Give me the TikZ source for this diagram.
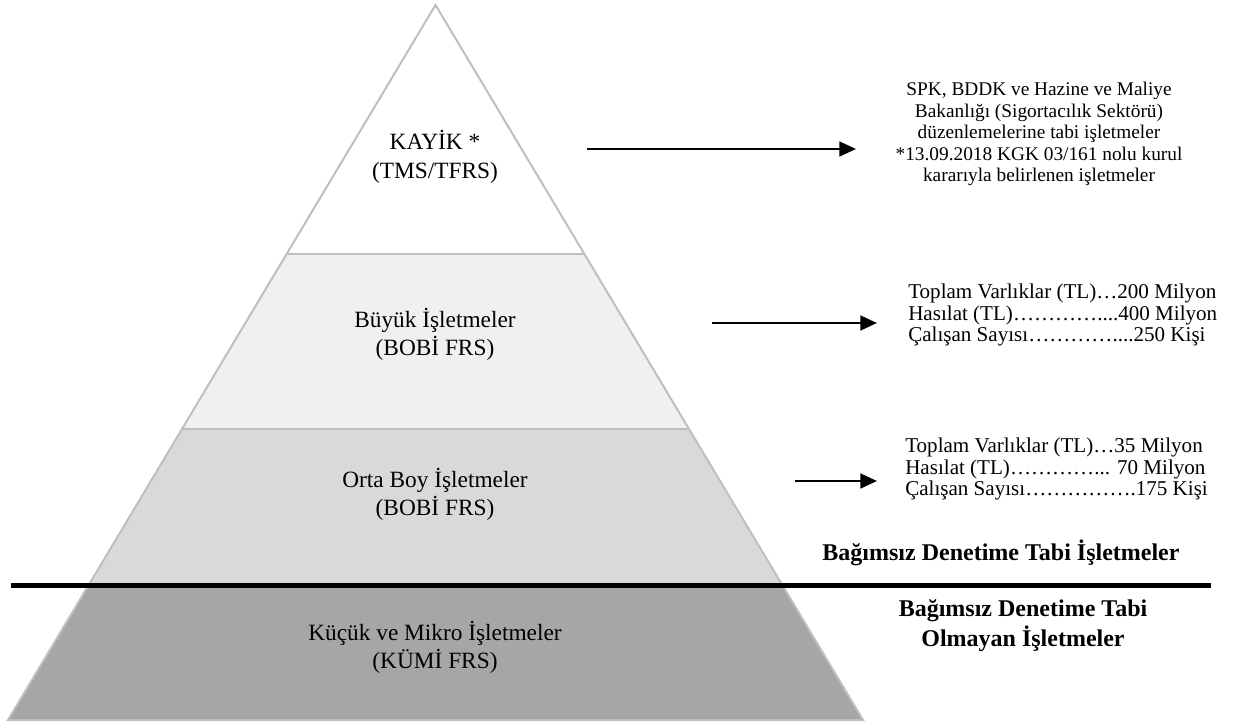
\documentclass[tikz,border=0pt]{standalone}
\usepackage{fontspec}
\setmainfont{Liberation Serif}
\usetikzlibrary{arrows.meta}
\usetikzlibrary{positioning}
\tikzset{arr/.style = {line width=2pt, -{Triangle[length=12.5pt, width=11pt]}}}
\tikzset{lbl/.style = {align=center, inner sep=0, font=\fontsize{17.5}{21.4}\selectfont}}
\tikzset{bold/.style = {align=center, inner sep=0, font=\fontsize{18}{22.5}\selectfont\bfseries}}
\tikzset{info/.style = {inner sep=0, font=\fontsize{14.5}{16.2}\selectfont}}
\tikzset{crit/.style = {inner sep=0, align=left, anchor=west, font=\fontsize{15.8}{16.3}\selectfont}}
\tikzset{edge/.style = {egray, line width=1.5pt}}
\definecolor{lgray}{HTML}{F0F0F0}
\definecolor{mgray}{HTML}{D9D9D9}
\definecolor{dgray}{HTML}{A6A6A6}
\definecolor{egray}{HTML}{BFBFBF}

\begin{document}
\begin{tikzpicture}[x=0.75pt, y=-0.75pt]
  \useasboundingbox (0,0) rectangle (1238,725);
  \coordinate (top) at (435.5,5);
  \coordinate (bl) at (8,720);
  \coordinate (br) at (863,720);
  \begin{scope}
    \clip (top) -- (bl) -- (br) -- cycle;
    \fill [lgray] (0,254) rectangle (1238,429);
    \fill [mgray] (0,429) rectangle (1238,585);
    \fill [dgray] (0,585) rectangle (1238,725);
    \foreach \y in {254, 429} {
      \draw [edge] (0,\y) -- (1238,\y);
    }
  \end{scope}
  \draw [edge] (top) -- (bl) -- (br) -- cycle;

  \coordinate (sl) at (11,585);
  \coordinate (sr) at (1211,585);
  \draw [line width=3.75pt] (sl) -- (sr);

  \node [lbl] (kayik) at (435,157) {KAYİK *\\(TMS/TFRS)};
  \node [lbl] (buyuk) at (435,334.5) {Büyük İşletmeler\\(BOBİ FRS)};
  \node [lbl] (orta) at (435,494.5) {Orta Boy İşletmeler\\(BOBİ FRS)};
  \node [lbl] (kucuk) at (435,647.5) {Küçük ve Mikro İşletmeler\\(KÜMİ FRS)};

  \node [info, align=center] (kayikinfo) at (1039,134)
    {SPK, BDDK ve Hazine ve Maliye\\Bakanlığı (Sigortacılık Sektörü)\\düzenlemelerine tabi işletmeler\\*13.09.2018 KGK 03/161 nolu kurul\\kararıyla belirlenen işletmeler};
  \node [crit] (buyukinfo) at (908,315)
    {Toplam Varlıklar (TL)…200 Milyon\\Hasılat (TL)…………....400 Milyon\\Çalışan Sayısı…………....250 Kişi};
  \node [crit] (ortainfo) at (905,469)
    {Toplam Varlıklar (TL)…35 Milyon\\Hasılat (TL)…………... 70 Milyon\\Çalışan Sayısı…………….175 Kişi};

  \node [bold] (tabi) at (1001,553) {Bağımsız Denetime Tabi İşletmeler};
  \node [bold] (tabidegil) at (1023,626) {Bağımsız Denetime Tabi\\Olmayan İşletmeler};

  \coordinate (a1s) at (587,149);
  \coordinate (a1e) at (856,149);
  \coordinate (a2s) at (712,323);
  \coordinate (a2e) at (877,323);
  \coordinate (a3s) at (795,481);
  \coordinate (a3e) at (877,481);
  \draw [arr] (a1s) -- (a1e);
  \draw [arr] (a2s) -- (a2e);
  \draw [arr] (a3s) -- (a3e);
\end{tikzpicture}
\end{document}
